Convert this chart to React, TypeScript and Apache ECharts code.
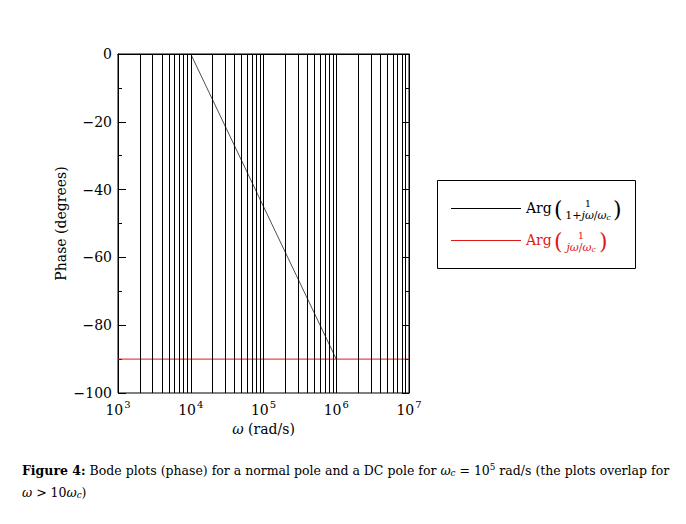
import React, { useEffect, useRef } from "react";
import * as echarts from "echarts";

const xMin = 1e3;
const xMax = 1e7;
const xTickExponents = [3, 4, 5, 6, 7];
const gridFreqs = [
  2e3, 3e3, 4e3, 5e3, 6e3, 7e3, 8e3, 9e3, 1e4,
  2e4, 3e4, 4e4, 5e4, 6e4, 7e4, 8e4, 9e4, 1e5,
  2e5, 3e5, 4e5, 5e5, 6e5, 7e5, 8e5, 9e5, 1e6,
  2e6, 3e6, 4e6, 5e6, 6e6, 7e6, 8e6, 9e6,
];
const normalPoleW = [1e4, 1e6];
const normalPolePhase = [0, -90];
const dcPoleW = [1e3, 1e7];
const dcPolePhase = [-90, -90];

const FONT = "DejaVu Serif";
const RED = "#e01818";

export default function App() {
  const ref = useRef<HTMLDivElement>(null);
  useEffect(() => {
    if (!ref.current) return;
    const chart = echarts.init(ref.current, undefined, { renderer: "svg" });
    const supRich = {
      b: { fontFamily: FONT, fontSize: 14, color: "#000", lineHeight: 18, verticalAlign: "bottom" },
      s: { fontFamily: FONT, fontSize: 10, color: "#000", lineHeight: 18, verticalAlign: "top", padding: [0, 0, 0, 1] },
    };
    const capRich = (fill: string, size: number) => ({
      b: { fontWeight: "bold", fontSize: size, fontFamily: FONT, fill },
      i: { fontStyle: "italic", fontSize: size, fontFamily: FONT, fill },
      s: { fontStyle: "italic", fontSize: size * 0.7, fontFamily: FONT, fill, padding: [size * 0.45, 0, 0, 0] },
      p: { fontSize: size * 0.7, fontFamily: FONT, fill, padding: [0, 0, size * 0.45, 0] },
    });
    const fracRich = (fill: string) => ({
      i: { fontStyle: "italic", fontSize: 11, fontFamily: FONT, fill },
      s: { fontStyle: "italic", fontSize: 7.5, fontFamily: FONT, fill, padding: [4, 0, 0, 0] },
    });
    const option: any = {
      animation: false,
      backgroundColor: "#fff",
      textStyle: { fontFamily: FONT },
      grid: {
        left: 118,
        top: 54,
        width: 291,
        height: 339,
        show: true,
        borderColor: "#000",
        borderWidth: 1,
        backgroundColor: "transparent",
      },
      xAxis: {
        type: "log",
        logBase: 10,
        min: xMin,
        max: xMax,
        axisLine: { show: true, lineStyle: { color: "#000", width: 1 } },
        axisTick: { show: false },
        splitLine: { show: false },
        axisLabel: {
          margin: 6,
          color: "#000",
          fontFamily: FONT,
          formatter: (v: number) => {
            const e = Math.round(Math.log10(v));
            if (!xTickExponents.includes(e)) return "";
            return `{b|10}{s|${e}}`;
          },
          rich: supRich,
        },
        name: "{i|ω} (rad/s)",
        nameLocation: "middle",
        nameGap: 28,
        nameTextStyle: {
          fontFamily: FONT,
          fontSize: 14,
          color: "#000",
          rich: { i: { fontFamily: FONT, fontStyle: "italic", fontSize: 14, color: "#000" } },
        },
      },
      yAxis: [
        {
          type: "value",
          min: -100,
          max: 0,
          interval: 20,
          axisLine: { show: true, lineStyle: { color: "#000", width: 1 } },
          axisTick: { show: true, inside: true, length: 8, lineStyle: { color: "#000", width: 1 } },
          minorTick: { show: true, splitNumber: 2, length: 4, lineStyle: { color: "#000", width: 1 } },
          splitLine: { show: false },
          axisLabel: {
            margin: 6,
            color: "#000",
            fontFamily: FONT,
            fontSize: 14,
            formatter: (v: number) => (v < 0 ? "\u2212" + Math.abs(v) : String(v)),
          },
          name: "Phase (degrees)",
          nameLocation: "middle",
          nameGap: 50,
          nameRotate: 90,
          nameTextStyle: { fontFamily: FONT, fontSize: 14, color: "#000" },
        },
        {
          type: "value",
          position: "right",
          min: -100,
          max: 0,
          interval: 20,
          axisLine: { show: true, lineStyle: { color: "#000", width: 1 } },
          axisTick: { show: true, inside: true, length: 7, lineStyle: { color: "#000", width: 1 } },
          minorTick: { show: true, splitNumber: 2, length: 4, lineStyle: { color: "#000", width: 1 } },
          splitLine: { show: false },
          axisLabel: { show: false },
        },
      ],
      series: [
        {
          name: "grid",
          type: "line",
          data: [],
          silent: true,
          markLine: {
            silent: true,
            symbol: "none",
            label: { show: false },
            lineStyle: { color: "#000", width: 1, type: "solid" },
            data: gridFreqs.map((f) => ({ xAxis: f })),
          },
        },
        {
          name: "Normal pole",
          type: "line",
          data: normalPoleW.map((w, i) => [w, normalPolePhase[i]]),
          showSymbol: false,
          lineStyle: { color: "#000", width: 0.7 },
          z: 3,
        },
        {
          name: "DC pole",
          type: "line",
          data: dcPoleW.map((w, i) => [w, dcPolePhase[i]]),
          showSymbol: false,
          lineStyle: { color: RED, width: 1 },
          z: 4,
        },
      ],
      graphic: [
        {
          type: "rect",
          shape: { x: 437.5, y: 180.5, width: 198, height: 88 },
          style: { fill: "#fff", stroke: "#000", lineWidth: 1 },
        },
        { type: "line", shape: { x1: 451, y1: 208.5, x2: 521, y2: 208.5 }, style: { stroke: "#000", lineWidth: 1 } },
        { type: "text", x: 526, y: 208, style: { text: "Arg", font: `14px ${FONT}`, fill: "#000", verticalAlign: "middle" } },
        { type: "text", x: 554, y: 209, style: { text: "(", font: `22px ${FONT}`, fill: "#000", verticalAlign: "middle" } },
        { type: "text", x: 588, y: 203, style: { text: "1", font: `10px ${FONT}`, fill: "#000", align: "center", verticalAlign: "middle" } },
        {
          type: "text", x: 588, y: 215,
          style: {
            text: "1+{i|jω}/{i|ω}{s|c}",
            font: `11px ${FONT}`, fill: "#000", align: "center", verticalAlign: "middle",
            rich: fracRich("#000"),
          },
        },
        { type: "text", x: 613, y: 209, style: { text: ")", font: `22px ${FONT}`, fill: "#000", verticalAlign: "middle" } },

        { type: "line", shape: { x1: 451, y1: 240.5, x2: 521, y2: 240.5 }, style: { stroke: RED, lineWidth: 1 } },
        { type: "text", x: 526, y: 240, style: { text: "Arg", font: `14px ${FONT}`, fill: RED, verticalAlign: "middle" } },
        { type: "text", x: 554, y: 241, style: { text: "(", font: `22px ${FONT}`, fill: RED, verticalAlign: "middle" } },
        { type: "text", x: 581, y: 235, style: { text: "1", font: `10px ${FONT}`, fill: RED, align: "center", verticalAlign: "middle" } },
        {
          type: "text", x: 581, y: 247,
          style: {
            text: "{i|jω}/{i|ω}{s|c}",
            font: `11px ${FONT}`, fill: RED, align: "center", verticalAlign: "middle",
            rich: fracRich(RED),
          },
        },
        { type: "text", x: 599, y: 241, style: { text: ")", font: `22px ${FONT}`, fill: RED, verticalAlign: "middle" } },

        {
          type: "text", x: 22, y: 470,
          style: {
            text: "{b|Figure 4:} Bode plots (phase) for a normal pole and a DC pole for {i|ω}{s|c} = 10{p|5} rad/s (the plots overlap for",
            font: `12.5px ${FONT}`, fill: "#000", verticalAlign: "middle",
            rich: capRich("#000", 12.5),
          },
        },
        {
          type: "text", x: 22, y: 492,
          style: {
            text: "{i|ω} > 10{i|ω}{s|c})",
            font: `12.5px ${FONT}`, fill: "#000", verticalAlign: "middle",
            rich: capRich("#000", 12.5),
          },
        },
      ],
    };
    chart.setOption(option);
    return () => chart.dispose();
  }, []);
  return (
    <div
      ref={ref}
      style={{ position: "fixed", left: 0, top: 0, width: 686, height: 524, background: "#fff" }}
    />
  );
}
